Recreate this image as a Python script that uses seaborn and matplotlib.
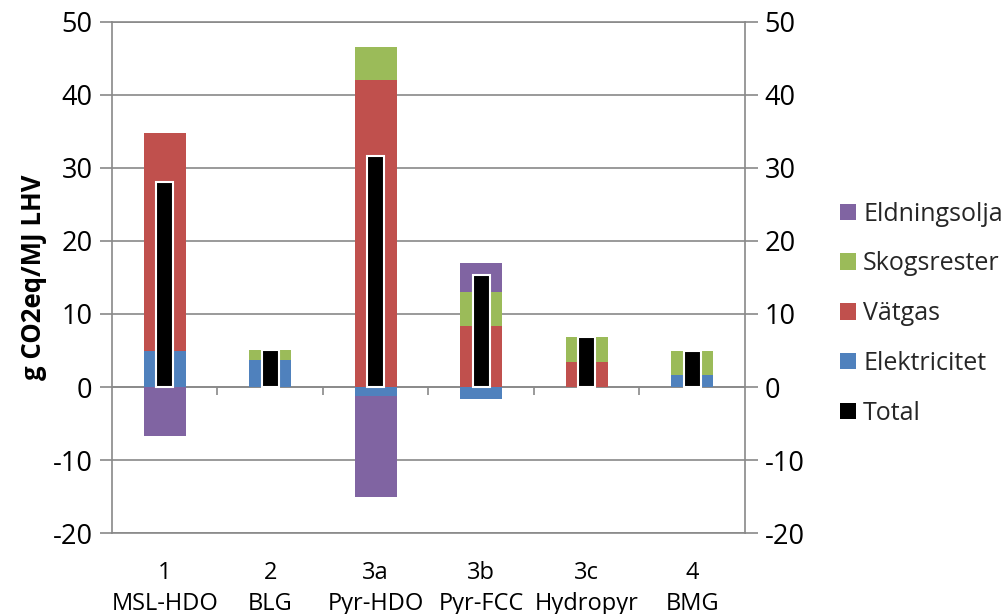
import numpy as np
import matplotlib
matplotlib.use("Agg")
import matplotlib.pyplot as plt
from matplotlib.patches import Patch
import seaborn as sns

# Process routes (number + short name)
categories = ["1\nMSL-HDO", "2\nBLG", "3a\nPyr-HDO", "3b\nPyr-FCC", "3c\nHydropyr", "4\nBMG"]

# Emission contributions, g CO2eq/MJ LHV
elektricitet = [5.0, 3.75, -1.3, -1.6, 0.0, 1.6]
vatgas = [29.8, 0.0, 42.1, 8.3, 3.4, 0.0]
skogsrester = [0.0, 1.35, 4.5, 4.65, 3.5, 3.3]
eldningsolja = [-6.7, 0.0, -13.7, 4.05, 0.0, 0.0]
total = [28.1, 5.1, 31.6, 15.4, 6.9, 4.9]

series_names = ["Elektricitet", "Vätgas", "Skogsrester", "Eldningsolja"]
series_values = [elektricitet, vatgas, skogsrester, eldningsolja]
series_colors = ["#4F81BD", "#C0504D", "#9BBB59", "#8064A2"]

GRAY = "#898989"

sns.set_theme(style="white")
plt.rcParams["font.family"] = ["Open Sans", "DejaVu Sans"]
plt.rcParams["axes.unicode_minus"] = False

fig = plt.figure(figsize=(10.05, 6.14), dpi=100)
ax = fig.add_axes([0.1114, 0.1319, 0.6299, 0.8323])

# Stacked contributions: positives stack upward, negatives downward
pos_base = np.zeros(len(categories))
neg_base = np.zeros(len(categories))
for name, vals, color in zip(series_names, series_values, series_colors):
    v = np.asarray(vals, dtype=float)
    bottom = np.where(v >= 0, pos_base, neg_base)
    sns.barplot(x=categories, y=v, order=categories, color=color, saturation=1,
                width=0.40, bottom=bottom, linewidth=0, errorbar=None,
                ax=ax, zorder=2)
    pos_base += np.clip(v, 0, None)
    neg_base += np.clip(v, None, 0)

# Net total as a narrow black bar on top
sns.barplot(x=categories, y=total, order=categories, color="black", saturation=1,
            width=0.16, edgecolor="white", linewidth=1.5, errorbar=None,
            ax=ax, zorder=3)

ax.set_xlim(-0.5, len(categories) - 0.5)
ax.set_ylim(-20, 50)
ax.set_yticks(np.arange(-20, 51, 10))

ax.set_axisbelow(True)
ax.yaxis.grid(True, color=GRAY, linewidth=1.2)
ax.xaxis.grid(False)
for side in ["left", "right", "top", "bottom"]:
    ax.spines[side].set_visible(True)
    ax.spines[side].set_color(GRAY)
    ax.spines[side].set_linewidth(1.2)

# Horizontal axis at zero with category separators
ax.axhline(0, color=GRAY, linewidth=1.2, zorder=1)
ax.vlines(np.arange(0.5, len(categories) - 0.5), -1.1, 0, color=GRAY,
          linewidth=1.2, zorder=1)

ax.tick_params(axis="y", which="both", left=True, right=True,
               labelleft=True, labelright=True, length=9, width=1.2,
               color=GRAY, labelsize=19.5, pad=5, labelcolor="black")
ax.tick_params(axis="x", length=0, labelsize=17, pad=20, labelcolor="black")
for lbl in ax.get_xticklabels():
    lbl.set_linespacing(1.4)
ax.set_xlabel("")
ax.set_ylabel("g CO2eq/MJ LHV", fontsize=18.5, fontweight="bold", color="black")
ax.yaxis.set_label_coords(-0.103, 0.5)

handles = [Patch(facecolor=c, edgecolor="none") for c in series_colors[::-1]]
handles.append(Patch(facecolor="black", edgecolor="none"))
labels = series_names[::-1] + ["Total"]
fig.legend(handles, labels, loc="upper left", bbox_to_anchor=(0.826, 0.688),
           frameon=False, fontsize=18, handlelength=0.64, handleheight=0.64,
           handletextpad=0.28, labelspacing=0.99, borderaxespad=0)

fig.savefig("out.png", dpi=100)
